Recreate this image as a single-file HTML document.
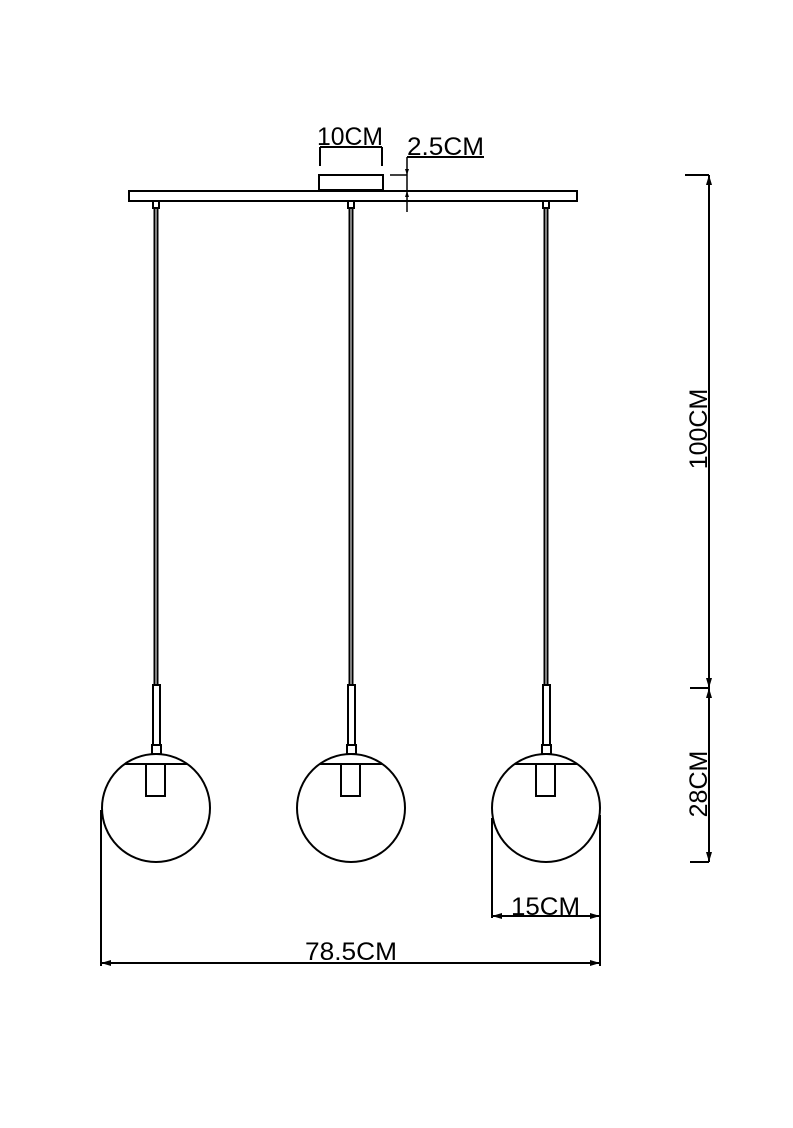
<!DOCTYPE html>
<html><head><style>html,body{margin:0;padding:0;background:#fff}</style></head><body>
<svg width="793" height="1123" viewBox="0 0 793 1123" xmlns="http://www.w3.org/2000/svg" font-family="Liberation Sans, sans-serif">
<defs><marker id="a" markerWidth="10" markerHeight="6" refX="10" refY="3" orient="auto-start-reverse" markerUnits="userSpaceOnUse"><path d="M0,0 L10,3 L0,6 z" fill="#000"/></marker>
<marker id="b" markerWidth="6" markerHeight="4" refX="6" refY="2" orient="auto" markerUnits="userSpaceOnUse"><path d="M0,0 L6,2 L0,4 z" fill="#000"/></marker></defs>
<g stroke="#000" stroke-width="2" fill="none">
<rect x="129" y="191" width="448" height="10"/>
<rect x="319" y="175" width="64" height="15"/>
<line x1="320" y1="147" x2="320" y2="166"/><line x1="382" y1="147" x2="382" y2="166"/>
<line x1="320" y1="147" x2="382" y2="147"/>
<line x1="407" y1="157" x2="484" y2="157"/>
<line x1="407" y1="157" x2="407" y2="175" stroke-width="1.5" marker-end="url(#b)"/>
<line x1="407" y1="212" x2="407" y2="191" stroke-width="1.5" marker-end="url(#b)"/>
<line x1="407" y1="175" x2="407" y2="191" stroke-width="1.5"/>
<line x1="390" y1="175" x2="407" y2="175" stroke-width="1.5"/>
<g id="p">
<rect x="153" y="201" width="6" height="7"/>
<line x1="154.5" y1="208" x2="154.5" y2="685"/><line x1="157.5" y1="208" x2="157.5" y2="685"/>
<rect x="153" y="685" width="7" height="60"/>
<rect x="152" y="745" width="9" height="9"/>
<circle cx="156" cy="808" r="54"/>
<line x1="125" y1="764" x2="187" y2="764"/>
<rect x="146" y="764" width="19" height="32"/>
</g>
<use href="#p" x="195"/>
<use href="#p" x="390"/>
<line x1="685" y1="175" x2="709" y2="175"/>
<line x1="690" y1="688" x2="709" y2="688"/>
<line x1="690" y1="862" x2="709" y2="862"/>
<line x1="709" y1="175" x2="709" y2="688" marker-start="url(#a)" marker-end="url(#a)"/>
<line x1="709" y1="688" x2="709" y2="862" marker-start="url(#a)" marker-end="url(#a)"/>
<line x1="101" y1="810" x2="101" y2="966"/>
<line x1="600" y1="815" x2="600" y2="966"/>
<line x1="492" y1="818" x2="492" y2="918"/>
<line x1="492" y1="916" x2="600" y2="916" marker-start="url(#a)" marker-end="url(#a)"/>
<line x1="101" y1="963" x2="600" y2="963" marker-start="url(#a)" marker-end="url(#a)"/>
</g>
<g font-size="25" fill="#000">
<text x="317" y="145" textLength="66" lengthAdjust="spacingAndGlyphs">10CM</text>
<text x="407" y="155" textLength="77" lengthAdjust="spacingAndGlyphs">2.5CM</text>
<text x="511" y="915" textLength="69" lengthAdjust="spacingAndGlyphs">15CM</text>
<text x="305" y="960" textLength="92" lengthAdjust="spacingAndGlyphs">78.5CM</text>
<text transform="translate(707,429) rotate(-90)" text-anchor="middle">100CM</text>
<text transform="translate(707,784) rotate(-90)" text-anchor="middle">28CM</text>
</g>
</svg>
</body></html>
